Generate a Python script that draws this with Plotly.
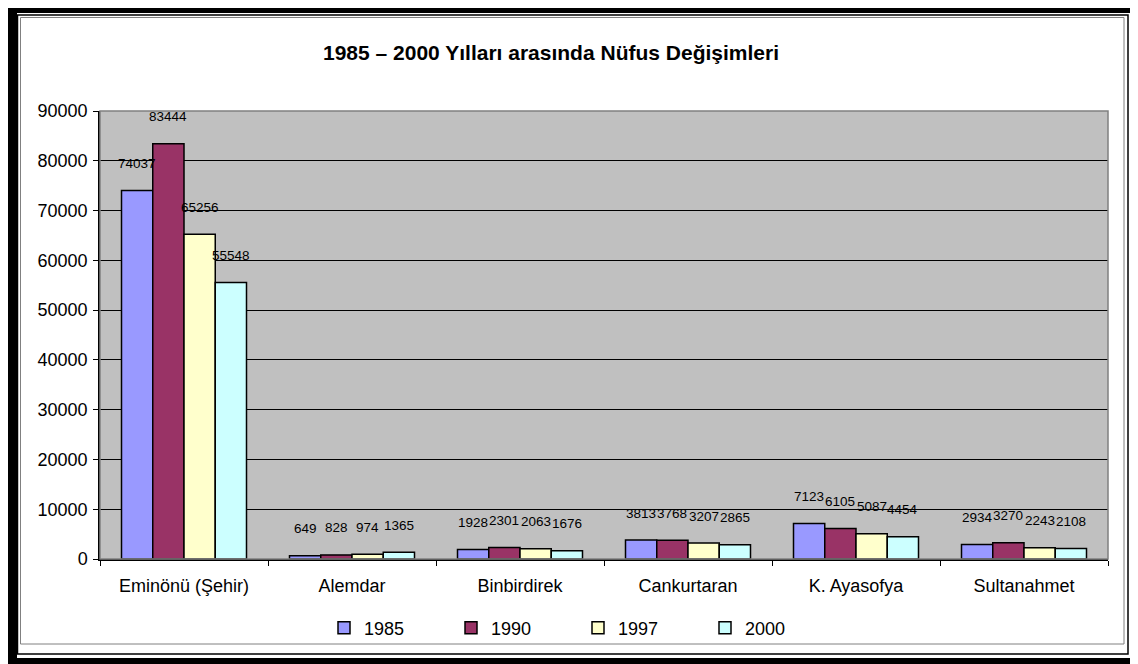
import plotly.graph_objects as go

categories = ["Eminönü (Şehir)", "Alemdar", "Binbirdirek", "Cankurtaran", "K. Ayasofya", "Sultanahmet"]
years = ["1985", "1990", "1997", "2000"]
v1985 = [74037, 649, 1928, 3813, 7123, 2934]
v1990 = [83444, 828, 2301, 3768, 6105, 3270]
v1997 = [65256, 974, 2063, 3207, 5087, 2243]
v2000 = [55548, 1365, 1676, 2865, 4454, 2108]
series = [v1985, v1990, v1997, v2000]
colors = ["#9999FF", "#993366", "#FFFFCC", "#CCFFFF"]
yticks = [0, 10000, 20000, 30000, 40000, 50000, 60000, 70000, 80000, 90000]

# page offset (browser body margin)
OX, OY = 8, 8
PAGE_W, PAGE_H = 1138, 664
W, H = PAGE_W - OX, PAGE_H - OY
# plot area in page pixels
PX0, PX1, PY0, PY1 = 100, 1108, 111, 559
L, R, T, B = PX0 - OX, PAGE_W - PX1, PY0 - OY, PAGE_H - PY1
PW = PX1 - PX0
PH = PY1 - PY0
BARGAP = 0.256

def px(x):
    return (x - PX0) / PW

def py(y):
    return (PY1 - y) / PH

FONT = "Liberation Sans, Arial, sans-serif"

fig = go.Figure()
for name, vals, col in zip(years, series, colors):
    fig.add_trace(go.Bar(
        x=categories, y=vals, name=name,
        marker=dict(color=col, line=dict(color="black", width=1.5)),
    ))

# data labels
barw = PW / len(categories) * (1 - BARGAP) / len(series)
annotations = []
for i, vals in enumerate(series):
    for c, v in zip(categories, vals):
        annotations.append(dict(
            x=c, y=v, xref="x", yref="y", text=str(v), showarrow=False,
            xshift=(i - (len(series) - 1) / 2) * barw, yshift=27,
            yanchor="middle", font=dict(family=FONT, size=13.5, color="black"),
        ))

shapes = [
    # outer thick frame
    dict(type="rect", xref="paper", yref="paper", x0=px(12.5), x1=px(1135.5), y0=py(8.5), y1=py(662.5),
         line=dict(color="black", width=9), layer="above"),
    dict(type="rect", xref="paper", yref="paper", x0=px(17.5), x1=px(1128), y0=py(15), y1=py(654),
         line=dict(color="black", width=1.5), layer="above"),
    dict(type="rect", xref="paper", yref="paper", x0=px(20.5), x1=px(1124), y0=py(17.5), y1=py(644),
         line=dict(color="#808080", width=1), layer="above"),
    # plot area border (gray top/right)
    dict(type="rect", xref="paper", yref="paper", x0=0, x1=1, y0=0, y1=1,
         line=dict(color="#808080", width=1.5), layer="above"),
]

fig.update_layout(
    width=W, height=H,
    margin=dict(l=L, r=R, t=T, b=B, pad=0),
    paper_bgcolor="white", plot_bgcolor="#C0C0C0",
    barmode="group", bargap=BARGAP, bargroupgap=0,
    font=dict(family=FONT, size=18, color="black"),
    title=dict(text="<b>1985 – 2000 Yılları arasında Nüfus Değişimleri</b>",
               x=(551 - OX) / W, y=1 - (53 - OY) / H, xanchor="center", yanchor="middle",
               xref="container", yref="container",
               font=dict(family=FONT, size=21, color="black")),
    xaxis=dict(type="category", showline=True, linecolor="black", linewidth=1.5,
               ticks="outside", ticklen=5, tickcolor="black", tickwidth=1,
               tickson="boundaries", showgrid=False,
               tickfont=dict(family=FONT, size=18, color="black"), ticklabelstandoff=10),
    yaxis=dict(range=[0, 90000], tickvals=yticks, ticktext=[str(t) for t in yticks],
               showline=True, linecolor="black", linewidth=1.5,
               ticks="outside", ticklen=5, tickcolor="black", tickwidth=1,
               showgrid=True, gridcolor="black", gridwidth=1, zeroline=False,
               tickfont=dict(family=FONT, size=18, color="black"), ticklabelstandoff=2),
    legend=dict(orientation="h", x=px(324), y=py(628), xanchor="left", yanchor="middle",
                entrywidth=82, entrywidthmode="pixels", itemwidth=30,
                font=dict(family=FONT, size=18, color="black"),
                bgcolor="rgba(0,0,0,0)", traceorder="normal"),
    annotations=annotations,
    shapes=shapes,
    showlegend=True,
)

fig.write_html("out.html")
